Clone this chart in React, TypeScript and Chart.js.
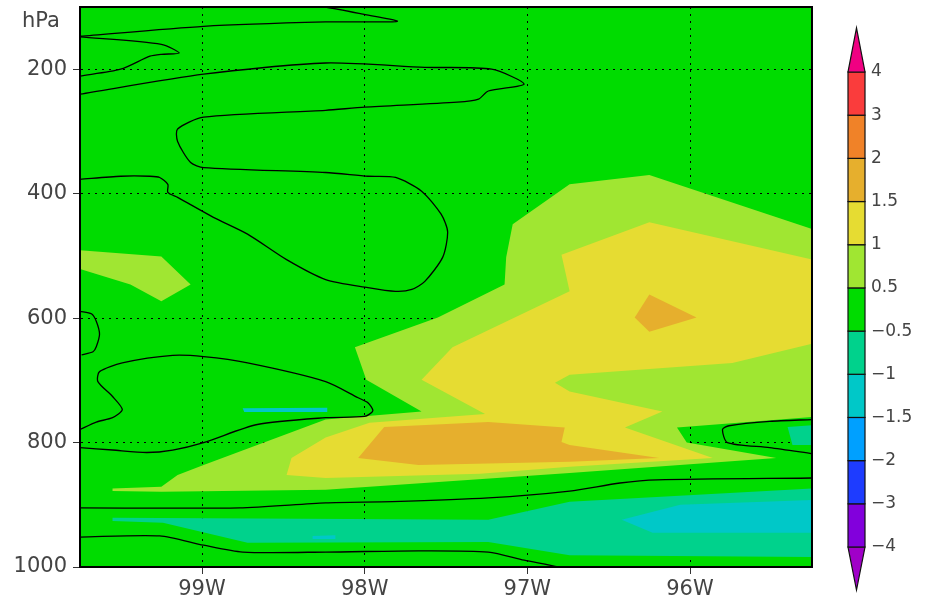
import React, { useEffect, useRef } from 'react';
import { Chart, registerables } from 'chart.js';

Chart.register(...registerables);

// ---------- axes ----------
const lonMin = -99.75;
const lonMax = -95.25;
const presTop = 100;
const presBottom = 1000;
const xTickValues = [-99, -98, -97, -96];
const yTickValues = [200, 400, 600, 800, 1000];

// ---------- colour bar ----------
const cbLabels = ['−4', '−3', '−2', '−1.5', '−1', '−0.5', '0.5', '1', '1.5', '2', '3', '4'];
const cbColors = [
  'rgb(160,0,200)', 'rgb(130,0,220)', 'rgb(30,60,255)', 'rgb(0,160,255)', 'rgb(0,200,200)',
  'rgb(0,210,140)', 'rgb(0,220,0)', 'rgb(160,230,50)', 'rgb(230,220,50)', 'rgb(230,175,45)',
  'rgb(240,130,40)', 'rgb(250,60,60)', 'rgb(240,0,130)',
];

// ---------- shaded regions [lon, hPa] ----------
const lightGreenMain = [
  [-99.55, 874], [-99.25, 871], [-99.15, 852], [-98.99, 836], [-98.24, 763], [-97.65, 750],
  [-97.99, 699], [-98.06, 647], [-97.55, 599], [-97.14, 546], [-97.13, 502], [-97.09, 449],
  [-96.74, 385], [-96.25, 370], [-95.2, 461], [-95.2, 758], [-96.08, 776], [-96.02, 800],
  [-95.47, 825], [-96.74, 849], [-98.24, 876], [-99.25, 879], [-99.55, 878],
];
const lightGreenWest = [
  [-99.8, 490], [-99.25, 501], [-99.07, 546], [-99.25, 573], [-99.44, 546], [-99.8, 517],
];
const yellowMain = [
  [-98.48, 852], [-98.45, 825], [-98.24, 792], [-97.97, 768], [-97.26, 754], [-97.65, 699],
  [-97.46, 647], [-96.74, 557], [-96.79, 498], [-96.25, 446], [-95.2, 509], [-95.2, 638],
  [-95.74, 672], [-96.74, 691], [-96.83, 704], [-96.74, 718], [-96.17, 750], [-96.4, 776],
  [-95.86, 825], [-96.74, 839], [-97.29, 850], [-98.24, 857],
];
const orangeLow = [
  [-98.04, 825], [-97.88, 775], [-97.24, 767], [-96.77, 776], [-96.79, 799], [-96.74, 804],
  [-96.19, 825], [-96.74, 831], [-97.67, 836],
];
const orangeHigh = [[-96.34, 599], [-96.25, 562], [-95.96, 599], [-96.25, 622]];
const cyanMid = [[-98.75, 745], [-98.23, 744], [-98.23, 751], [-98.74, 751]];
const tealLow = [
  [-99.55, 921], [-97.24, 924], [-96.74, 895], [-95.2, 873], [-95.2, 984], [-96.74, 981],
  [-97.24, 960], [-98.72, 961], [-99.24, 929], [-99.55, 926],
];
const cyanLow = [[-96.42, 924], [-96.06, 900], [-95.2, 892], [-95.2, 945], [-96.23, 945]];
const cyanSpeck = [[-98.32, 950], [-98.18, 949], [-98.18, 955], [-98.32, 955]];
const tealEast = [[-95.4, 775], [-95.2, 771], [-95.2, 804], [-95.37, 804]];

// ---------- contour lines [lon, hPa] ----------
const lineA = [
  [-99.75, 147], [-98.99, 131], [-98.24, 124], [-97.8, 123], [-98.02, 111], [-98.24, 100], [-98.4, 95],
];
const lineB = [
  [-99.75, 148], [-99.25, 160], [-99.14, 174], [-99.25, 176], [-99.32, 179], [-99.5, 200], [-99.75, 211],
];
const lineC = [
  [-99.75, 240], [-98.99, 208], [-98.24, 190], [-97.63, 197], [-97.22, 200], [-97.02, 224],
  [-97.24, 235], [-97.3, 248], [-97.43, 253], [-98.0, 261], [-98.24, 266], [-98.99, 277],
  [-99.15, 296], [-99.15, 316], [-99.07, 350], [-98.99, 358], [-98.24, 366], [-97.98, 372],
  [-97.81, 374], [-97.65, 396], [-97.53, 433], [-97.49, 461], [-97.52, 502], [-97.63, 541],
  [-97.71, 554], [-97.81, 557], [-97.98, 551], [-98.24, 538], [-98.48, 506], [-98.72, 465],
  [-98.93, 438], [-99.15, 406], [-99.21, 398], [-99.21, 385], [-99.26, 374], [-99.32, 372],
  [-99.5, 372], [-99.75, 377],
];
const lineD = [
  [-99.75, 589], [-99.68, 593], [-99.65, 605], [-99.63, 626], [-99.65, 646], [-99.67, 654], [-99.74, 659],
];
const lineE = [
  [-99.75, 779], [-99.65, 767], [-99.55, 760], [-99.49, 747], [-99.55, 726], [-99.64, 702],
  [-99.63, 686], [-99.49, 672], [-99.18, 660], [-98.99, 662], [-98.72, 672], [-98.24, 702],
  [-98.04, 728], [-97.98, 736], [-97.95, 749], [-98.0, 758], [-98.24, 760], [-98.66, 771],
  [-98.99, 800], [-99.18, 812], [-99.34, 816], [-99.55, 812], [-99.75, 808],
];
const lineF = [
  [-99.75, 905], [-98.77, 905], [-98.24, 897], [-97.83, 895], [-97.24, 889], [-96.74, 878],
  [-96.43, 865], [-96.2, 860], [-95.25, 857],
];
const lineG = [
  [-99.75, 952], [-99.26, 950], [-98.99, 965], [-98.75, 976], [-98.24, 976], [-97.67, 974],
  [-97.24, 976], [-97.02, 989], [-96.81, 1000], [-96.71, 1008],
];
const lineH = [
  [-95.25, 763], [-95.51, 766], [-95.76, 773], [-95.8, 779], [-95.77, 800], [-95.51, 808], [-95.25, 818],
];

const FONT = "'DejaVu Sans ExtraLight', 'DejaVu Sans', sans-serif";
const TEXT_COLOR = '#444';

function polyDs(pts: number[][], color: string, order: number) {
  return {
    data: pts.map(([x, y]) => ({ x, y })),
    borderColor: 'rgba(0,0,0,0)',
    borderWidth: 0,
    backgroundColor: color,
    fill: 'shape',
    pointRadius: 0,
    tension: 0,
    order,
  };
}
function lineDs(pts: number[][]) {
  return {
    data: pts.map(([x, y]) => ({ x, y })),
    borderColor: '#000',
    borderWidth: 1.3,
    backgroundColor: '#000',
    fill: false,
    pointRadius: 0,
    tension: 0.25,
    order: 0,
  };
}

const decorPlugin = {
  id: 'decor',
  beforeDraw(chart: any) {
    const { ctx, chartArea: a } = chart;
    ctx.save();
    ctx.fillStyle = cbColors[6];
    ctx.fillRect(a.left, a.top, a.right - a.left, a.bottom - a.top);
    ctx.restore();
  },
  afterDraw(chart: any) {
    const { ctx, chartArea: a } = chart;
    ctx.save();
    // frame
    ctx.strokeStyle = '#000';
    ctx.lineWidth = 2;
    ctx.strokeRect(a.left, a.top, a.right - a.left, a.bottom - a.top);
    // unit label
    ctx.fillStyle = TEXT_COLOR;
    ctx.font = `21px ${FONT}`;
    ctx.textAlign = 'left';
    ctx.textBaseline = 'alphabetic';
    ctx.fillText('hPa', 22, 27);
    // colour bar
    const x0 = 848, x1 = 865, yTop = 72, yBot = 547;
    const n = cbLabels.length - 1;
    const h = (yBot - yTop) / n;
    const xm = (x0 + x1) / 2;
    ctx.lineWidth = 1.2;
    ctx.strokeStyle = '#111';
    ctx.beginPath();
    ctx.moveTo(x0, yBot);
    ctx.lineTo(x1, yBot);
    ctx.lineTo(xm, 590);
    ctx.closePath();
    ctx.fillStyle = cbColors[0];
    ctx.fill();
    ctx.stroke();
    for (let i = 0; i < n; i++) {
      const yb = yBot - i * h;
      ctx.fillStyle = cbColors[i + 1];
      ctx.fillRect(x0, yb - h, x1 - x0, h);
      ctx.strokeRect(x0, yb - h, x1 - x0, h);
    }
    ctx.beginPath();
    ctx.moveTo(x0, yTop);
    ctx.lineTo(x1, yTop);
    ctx.lineTo(xm, 28);
    ctx.closePath();
    ctx.fillStyle = cbColors[cbColors.length - 1];
    ctx.fill();
    ctx.stroke();
    ctx.fillStyle = TEXT_COLOR;
    ctx.font = `17px ${FONT}`;
    ctx.textBaseline = 'middle';
    cbLabels.forEach((t, i) => {
      ctx.fillText(t, 871, yBot - i * h);
    });
    ctx.restore();
  },
};

export default function App() {
  const ref = useRef<HTMLCanvasElement | null>(null);
  useEffect(() => {
    if (!ref.current) return;
    const tickFont = { family: FONT, size: 21 };
    const chart = new Chart(ref.current, {
      type: 'line',
      data: {
        datasets: [
          lineDs(lineA), lineDs(lineB), lineDs(lineC), lineDs(lineD), lineDs(lineE),
          lineDs(lineF), lineDs(lineG), lineDs(lineH),
          polyDs(cyanSpeck, cbColors[4], 3),
          polyDs(cyanLow, cbColors[4], 3),
          polyDs(cyanMid, cbColors[4], 3),
          polyDs(tealEast, cbColors[5], 4),
          polyDs(tealLow, cbColors[5], 4),
          polyDs(orangeHigh, cbColors[9], 5),
          polyDs(orangeLow, cbColors[9], 5),
          polyDs(yellowMain, cbColors[8], 6),
          polyDs(lightGreenWest, cbColors[7], 7),
          polyDs(lightGreenMain, cbColors[7], 7),
        ] as any,
      },
      options: {
        animation: false,
        responsive: false,
        events: [],
        layout: { padding: { top: 7, right: 122, left: 0, bottom: 0 } },
        plugins: { legend: { display: false }, tooltip: { enabled: false } },
        scales: {
          x: {
            type: 'linear',
            min: lonMin,
            max: lonMax,
            z: 1,
            afterBuildTicks: (s: any) => { s.ticks = xTickValues.map((v) => ({ value: v })); },
            afterFit: (s: any) => { s.height = 36; s.paddingLeft = 0; s.paddingRight = 0; },
            ticks: {
              callback: (v: any) => `${Math.abs(Number(v))}W`,
              font: tickFont,
              color: TEXT_COLOR,
              padding: 3,
              maxRotation: 0,
              autoSkip: false,
            },
            grid: { color: '#000', lineWidth: 1, tickLength: 7, tickColor: '#333', drawTicks: true },
            border: { display: true, color: '#000', width: 2, dash: [2, 5] },
          },
          y: {
            type: 'linear',
            min: presTop,
            max: presBottom,
            reverse: true,
            z: 1,
            afterBuildTicks: (s: any) => { s.ticks = yTickValues.map((v) => ({ value: v })); },
            afterFit: (s: any) => { s.width = 80; s.paddingTop = 0; s.paddingBottom = 0; },
            ticks: {
              callback: (v: any) => String(v),
              font: tickFont,
              color: TEXT_COLOR,
              padding: 6,
              autoSkip: false,
            },
            grid: { color: '#000', lineWidth: 1, tickLength: 7, tickColor: '#333', drawTicks: true },
            border: { display: true, color: '#000', width: 2, dash: [2, 5] },
          },
        },
      } as any,
      plugins: [decorPlugin],
    });
    return () => chart.destroy();
  }, []);
  return (
    <div style={{ position: 'fixed', left: 0, top: 0, width: 934, height: 603, background: '#fff' }}>
      <canvas ref={ref} width={934} height={603} style={{ width: 934, height: 603 }} />
    </div>
  );
}
